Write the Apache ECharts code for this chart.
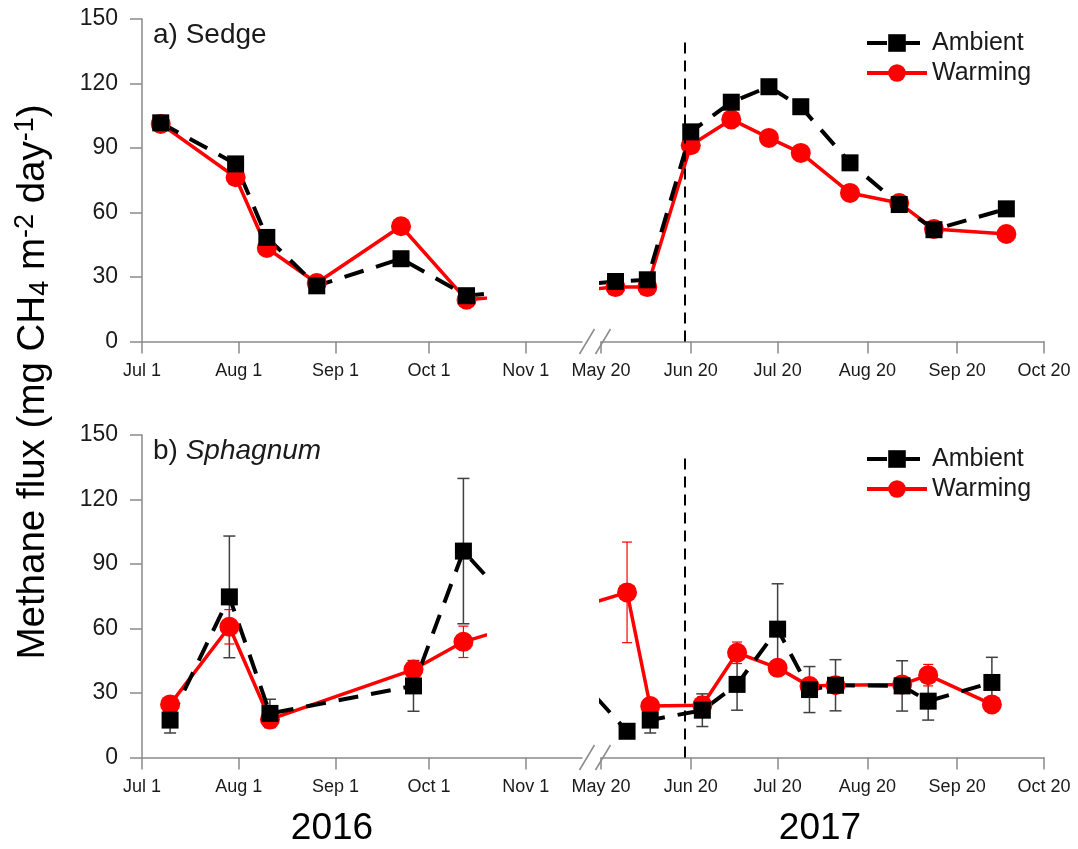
<!DOCTYPE html>
<html>
<head>
<meta charset="utf-8">
<script src="https://cdn.jsdelivr.net/npm/echarts@6/dist/echarts.min.js"></script>
<style>
  html, body { margin: 0; background: #fff; }
  #chart { width: 1078px; height: 849px; }
</style>
</head>
<body>
<div id="chart"></div>
<script>
// ---- data ----
// a) Sedge
const sedgeDates2016 = ['2016-07-07', '2016-07-31', '2016-08-10', '2016-08-26', '2016-09-22', '2016-10-13'];
const sedgeAmbient2016 = [101.7, 82.6, 48.4, 25.9, 38.5, 21.3];
const sedgeAmbientErr2016 = [2.5, 2.5, 3, 3, 2, 3];
const sedgeWarming2016 = [101.2, 76.4, 43.5, 27.2, 53.6, 19.4];
const sedgeWarmingErr2016 = [2, 3, 3, 3.5, 2, 3.5];

const sedgeDates2017 = ['2017-05-25', '2017-06-05', '2017-06-20', '2017-07-04', '2017-07-17',
  '2017-07-28', '2017-08-14', '2017-08-31', '2017-09-12', '2017-10-07'];
const sedgeAmbient2017 = [27.9, 28.7, 97.5, 111.3, 118.5, 109.2, 83.1, 63.7, 52.0, 61.7];
const sedgeAmbientErr2017 = [3, 3, 3, 2, 2, 2, 2, 3, 3, 2];
const sedgeWarming2017 = [25.3, 25.3, 91.3, 103.3, 94.7, 87.7, 69.1, 64.4, 52.3, 50.0];
const sedgeWarmingErr2017 = [2.5, 2.5, 3, 2, 2, 2, 2, 3, 3, 2];

// b) Sphagnum
const sphagDates2016 = ['2016-07-10', '2016-07-29', '2016-08-11', '2016-09-26', '2016-10-12'];
const sphagAmbient2016 = [17.4, 74.7, 20.5, 33.3, 96.0];
const sphagAmbientErr2016 = [6, 28.3, 6.6, 11.8, 33.8];
const sphagWarming2016 = [24.7, 60.8, 17.7, 40.9, 53.8];
const sphagWarmingErr2016 = [2, 8, 3.5, 4, 7.3];

const sphagDates2017 = ['2017-05-29', '2017-06-06', '2017-06-24', '2017-07-06', '2017-07-20',
  '2017-07-31', '2017-08-09', '2017-09-01', '2017-09-10', '2017-10-02'];
const sphagAmbient2017 = [12.2, 17.4, 22.0, 34.0, 59.7, 31.6, 33.6, 33.3, 26.2, 34.9];
const sphagAmbientErr2017 = [1, 6, 7.6, 12, 21.1, 10.7, 11.9, 11.7, 8.8, 11.7];
const sphagWarming2017 = [76.8, 23.9, 24.3, 48.7, 41.7, 33.2, 33.6, 34.0, 38.3, 24.7];
const sphagWarmingErr2017 = [23.4, 2, 4, 5, 3, 3.7, 2, 2, 5, 3];

// axes
const ticks2016 = ['2016-07-01', '2016-08-01', '2016-09-01', '2016-10-01', '2016-11-01'];
const tickLabels2016 = ['Jul 1', 'Aug 1', 'Sep 1', 'Oct 1', 'Nov 1'];
const ticks2017 = ['2017-05-20', '2017-06-20', '2017-07-20', '2017-08-20', '2017-09-20', '2017-10-20'];
const tickLabels2017 = ['May 20', 'Jun 20', 'Jul 20', 'Aug 20', 'Sep 20', 'Oct 20'];
const warmingStart = '2017-06-18';
const yearLabels = ['2016', '2017'];

// ---- layout / style ----
const FONT = "'Liberation Sans', Arial, sans-serif";
const AXIS_COLOR = '#8a8a8a';
const TEXT_COLOR = '#1a1a1a';
const PANEL_TOP = [19, 435];
const GRID_H = 322.5;
const LEFT_X = 142, LEFT_W = 440, CLIP_W = 342;
const RIGHT_X = 601, RIGHT_W = 443;
const MARK_TOP = 141.5;

const DAY = 86400000;
const toDay = s => Date.UTC(+s.slice(0, 4), +s.slice(5, 7) - 1, +s.slice(8, 10)) / DAY;

const min16 = toDay(ticks2016[0]);
const max16 = min16 + 141;
const clipMax16 = min16 + CLIP_W * (max16 - min16) / LEFT_W;
const min17 = toDay(ticks2017[0]);
const max17 = toDay(ticks2017[ticks2017.length - 1]);

const labelMap = {};
ticks2016.forEach((d, i) => { labelMap[toDay(d)] = tickLabels2016[i]; });
ticks2017.forEach((d, i) => { labelMap[toDay(d)] = tickLabels2017[i]; });

const panels = [
  {
    title: 'a) Sedge',
    d16: sedgeDates2016, d17: sedgeDates2017,
    Ambient: {v16: sedgeAmbient2016, e16: sedgeAmbientErr2016, v17: sedgeAmbient2017, e17: sedgeAmbientErr2017},
    Warming: {v16: sedgeWarming2016, e16: sedgeWarmingErr2016, v17: sedgeWarming2017, e17: sedgeWarmingErr2017}
  },
  {
    title: 'b) {i|Sphagnum}',
    d16: sphagDates2016, d17: sphagDates2017,
    Ambient: {v16: sphagAmbient2016, e16: sphagAmbientErr2016, v17: sphagAmbient2017, e17: sphagAmbientErr2017},
    Warming: {v16: sphagWarming2016, e16: sphagWarmingErr2016, v17: sphagWarming2017, e17: sphagWarmingErr2017}
  }
];

const looks = {
  Ambient: {color: '#000', symbol: 'rect', size: 17,
    line: {color: '#000', width: 4, type: [20, 13]},
    err: {color: '#404040', width: 1.5, cap: 6}},
  Warming: {color: '#ff0000', symbol: 'circle', size: 20,
    line: {color: '#ff0000', width: 3.5, type: 'solid'},
    err: {color: '#ff0000', width: 1.2, cap: 5}}
};

function xAxisFor(gridIndex, min, max, ticks) {
  const vals = ticks.map(toDay);
  return {
    type: 'value', gridIndex, min, max,
    axisLine: {show: true, onZero: false, lineStyle: {color: AXIS_COLOR, width: 1.5}},
    axisTick: {show: true, length: 12, customValues: vals, lineStyle: {color: AXIS_COLOR, width: 1.5}},
    axisLabel: {show: true, customValues: vals, margin: 21, fontSize: 18, fontFamily: FONT,
      color: TEXT_COLOR, hideOverlap: false, formatter: v => labelMap[v] || ''},
    splitLine: {show: false}
  };
}

function errorSeries(name, xi, dates, vals, errs) {
  const st = looks[name].err;
  return {
    type: 'custom', name: name + ' error', xAxisIndex: xi, yAxisIndex: xi, silent: true,
    encode: {x: 0, y: [1, 2]},
    data: dates.map((d, i) => [toDay(d), vals[i] - errs[i], vals[i] + errs[i]]),
    renderItem: (params, api) => {
      const lo = api.coord([api.value(0), api.value(1)]);
      const hi = api.coord([api.value(0), api.value(2)]);
      const s = {stroke: st.color, lineWidth: st.width};
      const c = st.cap;
      return {type: 'group', children: [
        {type: 'line', shape: {x1: lo[0], y1: lo[1], x2: hi[0], y2: hi[1]}, style: s},
        {type: 'line', shape: {x1: lo[0] - c, y1: lo[1], x2: lo[0] + c, y2: lo[1]}, style: s},
        {type: 'line', shape: {x1: hi[0] - c, y1: hi[1], x2: hi[0] + c, y2: hi[1]}, style: s}
      ]};
    }
  };
}

function lineSeries(name, xi, dates, vals, extra, atStart) {
  const lk = looks[name];
  const data = dates.map((d, i) => [toDay(d), vals[i]]);
  if (extra) {
    const item = {value: extra, symbol: 'none'};
    if (atStart) data.unshift(item); else data.push(item);
  }
  return {
    type: 'line', name, xAxisIndex: xi, yAxisIndex: xi,
    data, clip: true, symbol: lk.symbol, symbolSize: lk.size,
    itemStyle: {color: lk.color},
    lineStyle: lk.line,
    emphasis: {disabled: true}
  };
}

function buildOption(links) {
  const grid = [], xAxis = [], yAxis = [], series = [], legend = [], graphic = [];
  panels.forEach((pn, p) => {
    const top = PANEL_TOP[p];
    const g16 = 3 * p, c16 = 3 * p + 1, g17 = 3 * p + 2;
    grid.push({left: LEFT_X, top, width: LEFT_W, height: GRID_H});
    grid.push({left: LEFT_X, top, width: CLIP_W, height: GRID_H});
    grid.push({left: RIGHT_X, top, width: RIGHT_W, height: GRID_H});

    xAxis.push(xAxisFor(g16, min16, max16, ticks2016));
    xAxis.push({type: 'value', gridIndex: c16, min: min16, max: clipMax16, show: false});
    xAxis.push(xAxisFor(g17, min17, max17, ticks2017));

    yAxis.push({
      type: 'value', gridIndex: g16, min: 0, max: 150, interval: 30,
      axisLine: {show: true, lineStyle: {color: AXIS_COLOR, width: 1.5}},
      axisTick: {show: true, length: 12, lineStyle: {color: AXIS_COLOR, width: 1.5}},
      axisLabel: {margin: 24, fontSize: 23, fontFamily: FONT, color: TEXT_COLOR},
      splitLine: {show: false}
    });
    yAxis.push({type: 'value', gridIndex: c16, min: 0, max: 150, show: false});
    yAxis.push({type: 'value', gridIndex: g17, min: 0, max: 150, show: false});

    // 2016 segment (clipped before the axis break)
    ['Warming', 'Ambient'].forEach(name => {
      const lk = links && links[p][name];
      series.push(lineSeries(name, c16, pn.d16, pn[name].v16, lk && lk.fwd, false));
    });
    ['Ambient', 'Warming'].forEach(name => {
      series.push(errorSeries(name, c16, pn.d16, pn[name].v16, pn[name].e16));
    });
    // 2017 segment
    ['Warming', 'Ambient'].forEach(name => {
      const lk = links && links[p][name];
      const s = lineSeries(name, g17, pn.d17, pn[name].v17, lk && lk.back, true);
      if (name === 'Ambient') {
        s.markLine = {
          silent: true, symbol: ['none', 'none'], label: {show: false},
          lineStyle: {color: '#000', width: 2, type: [11, 7]},
          data: [[{coord: [toDay(warmingStart), 0]}, {coord: [toDay(warmingStart), MARK_TOP]}]]
        };
      }
      series.push(s);
    });
    ['Ambient', 'Warming'].forEach(name => {
      series.push(errorSeries(name, g17, pn.d17, pn[name].v17, pn[name].e17));
    });

    legend.push({
      data: ['Ambient', 'Warming'], orient: 'vertical', left: 865, top: top + 11,
      padding: 0, itemWidth: 60, itemHeight: 22, itemGap: 4, selectedMode: false,
      lineStyle: {width: 4},
      textStyle: {fontSize: 25, fontFamily: FONT, color: TEXT_COLOR, lineHeight: 26}
    });

    graphic.push({
      type: 'text', x: 153, y: top + 16,
      style: {text: pn.title, fontSize: 28, fontFamily: FONT, fill: TEXT_COLOR,
        textVerticalAlign: 'middle', rich: {i: {fontStyle: 'italic', fontSize: 28, fontFamily: FONT, fill: TEXT_COLOR}}}
    });

    // axis-break marks
    const axisY = top + GRID_H;
    [587, 603].forEach(bx => {
      graphic.push({type: 'line', shape: {x1: bx - 7.5, y1: axisY + 12.5, x2: bx + 7.5, y2: axisY - 12.5},
        style: {stroke: AXIS_COLOR, lineWidth: 1.5}});
    });
  });

  graphic.push({
    type: 'text', x: 33, y: 382, rotation: Math.PI / 2,
    style: {
      text: 'Methane flux (mg CH{sub|4} m{sup|-2} day{sup|-1})',
      fontSize: 38.5, fontFamily: FONT, fill: '#000',
      textAlign: 'center', textVerticalAlign: 'middle',
      rich: {
        sub: {fontSize: 27, fontFamily: FONT, fill: '#000', verticalAlign: 'bottom', lineHeight: 42},
        sup: {fontSize: 27, fontFamily: FONT, fill: '#000', verticalAlign: 'top', lineHeight: 42}
      }
    }
  });
  [[332, yearLabels[0]], [820, yearLabels[1]]].forEach(([x, t]) => {
    graphic.push({type: 'text', x, y: 829,
      style: {text: t, fontSize: 37, fontFamily: FONT, fill: '#000', textAlign: 'center', textVerticalAlign: 'middle'}});
  });

  return {backgroundColor: '#fff', animation: false, grid, xAxis, yAxis, series, legend, graphic};
}

const chart = echarts.init(document.getElementById('chart'));
chart.setOption(buildOption(null));

// carry each line across the axis break, through the library's own scales
const links = panels.map((pn, p) => {
  const c16 = 3 * p + 1, g17 = 3 * p + 2;
  const move = (v, from, to) =>
    chart.convertFromPixel({xAxisIndex: to}, chart.convertToPixel({xAxisIndex: from}, v));
  const out = {};
  ['Ambient', 'Warming'].forEach(name => {
    const s = pn[name];
    const first17 = toDay(pn.d17[0]);
    const last16 = toDay(pn.d16[pn.d16.length - 1]);
    out[name] = {
      fwd: [move(first17, g17, c16), s.v17[0]],
      back: [move(last16, c16, g17), s.v16[s.v16.length - 1]]
    };
  });
  return out;
});
chart.setOption(buildOption(links), true);
</script>
</body>
</html>
